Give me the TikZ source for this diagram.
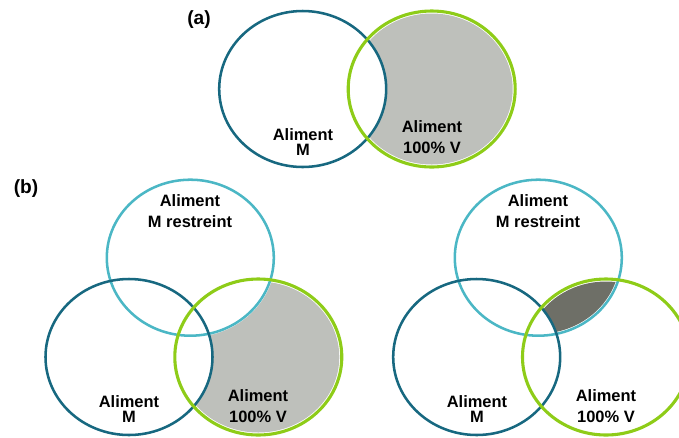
\documentclass[tikz,border=0pt]{standalone}
\usepackage{fontspec}
\setmainfont{Liberation Sans}
\usepackage{tikz}

\definecolor{mblue}{RGB}{23,104,128}
\definecolor{rteal}{RGB}{75,183,197}
\definecolor{vgreen}{RGB}{142,204,24}
\definecolor{lgray}{RGB}{190,192,187}
\definecolor{dgray}{RGB}{110,111,103}

\begin{document}
\begin{tikzpicture}[x=0.025cm,y=-0.025cm,
  setM/.style={draw=mblue,line width=1.8pt},
  setR/.style={draw=rteal,line width=1.8pt},
  setV/.style={draw=vgreen,line width=2.2pt},
  lbl/.style={font=\bfseries\fontsize{11.7}{15.2}\selectfont,align=center,inner sep=0pt},
  tag/.style={font=\bfseries\fontsize{13.6}{16}\selectfont,inner sep=0pt}]
\useasboundingbox (0,0) rectangle (679,437);
% Panel (a): fill V outside M
\fill[lgray] (431.7,89) ellipse [x radius=81,y radius=75.5];
\fill[white] (302.7,89) ellipse [x radius=83.5,y radius=78];
% Draw the two sets of (a)
\draw[setM] (302.7,89) ellipse [x radius=83.5,y radius=78];
\draw[setV] (431.7,89) ellipse [x radius=83.5,y radius=78];
% Panel (b), left: fill V outside M and R
\fill[lgray] (258.3,357) ellipse [x radius=81,y radius=75.5];
\fill[white] (190.3,257.7) ellipse [x radius=85,y radius=79.5];
\fill[white] (129,357) ellipse [x radius=83.5,y radius=78];
% Draw the three sets of (b), left
\draw[setR] (190.3,257.7) ellipse [x radius=83.5,y radius=78];
\draw[setM] (129,357) ellipse [x radius=83.5,y radius=78];
\draw[setV] (258.3,357) ellipse [x radius=83.5,y radius=78];
% Panel (b), right: fill R and V outside M
\begin{scope}
\clip (538.3,257.7) ellipse [x radius=81.5,y radius=76];
\fill[dgray] (606,357) ellipse [x radius=81,y radius=75.5];
\end{scope}
\fill[white] (476.7,357) ellipse [x radius=83.5,y radius=78];
% Draw the three sets of (b), right
\draw[setR] (538.3,257.7) ellipse [x radius=83.5,y radius=78];
\draw[setM] (476.7,357) ellipse [x radius=83.5,y radius=78];
\draw[setV] (606,357) ellipse [x radius=83.5,y radius=78];
% Draw labels
\node[tag] (tagA) at (199,20) {(a)};
\node[tag] (tagB) at (26,189) {(b)};
\node[lbl] (aM) at (303,142) {Aliment\\[-4.3pt]M};
\node[lbl] (aV) at (432,137) {Aliment\\100\% V};
\node[lbl] (bR) at (190,211) {Aliment\\M restreint};
\node[lbl] (bM) at (129,409) {Aliment\\[-4.3pt]M};
\node[lbl] (bV) at (258,406) {Aliment\\100\% V};
\node[lbl] (cR) at (538,211) {Aliment\\M restreint};
\node[lbl] (cM) at (477,409) {Aliment\\[-4.3pt]M};
\node[lbl] (cV) at (606,406) {Aliment\\100\% V};
\end{tikzpicture}
\end{document}
